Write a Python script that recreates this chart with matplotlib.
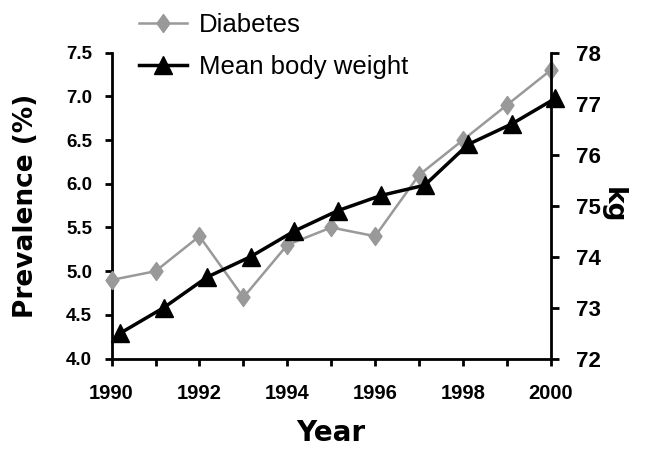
import matplotlib.pyplot as plt
import numpy as np

years = [1990, 1991, 1992, 1993, 1994, 1995, 1996, 1997, 1998, 1999, 2000]
diabetes = [4.9, 5.0, 5.4, 4.7, 5.3, 5.5, 5.4, 6.1, 6.5, 6.9, 7.3]
weight = [72.5, 73.0, 73.6, 74.0, 74.5, 74.9, 75.2, 75.4, 76.2, 76.6, 77.1]

prev_ticks = [4.0, 4.5, 5.0, 5.5, 6.0, 6.5, 7.0, 7.5]
kg_ticks = [72, 73, 74, 75, 76, 77, 78]
year_labels = [1990, 1992, 1994, 1996, 1998, 2000]

GRAY = "#999999"
# slightly tall diamond like the original
DIAMOND = [(0, 1), (0.72, 0), (0, -1), (-0.72, 0), (0, 1)]

fig = plt.figure(figsize=(6.45, 4.61), dpi=100)
rect = [0.173, 0.222, 0.681, 0.664]
ax = fig.add_axes(rect)

# prevalence on the primary axes
(l1,) = ax.plot(years, diabetes, color=GRAY, lw=1.8, marker=DIAMOND, ms=13,
                mec=GRAY, mfc=GRAY, clip_on=False, zorder=3, label="Diabetes")
ax.set_xlim(1990, 2000)
ax.set_ylim(4.0, 7.5)
ax.set_yticks(prev_ticks)
ax.set_yticklabels([f"{v:.1f}" for v in prev_ticks])
ax.set_xticks(years)
ax.set_xticklabels([str(y) if y in year_labels else "" for y in years])
for lab in ax.get_yticklabels():
    lab.set(family="Liberation Sans", weight="bold", size=13.5)
for lab in ax.get_xticklabels():
    lab.set(family="Liberation Sans", weight="bold", size=14.5)
for s in ["top", "right"]:
    ax.spines[s].set_visible(False)
for s in ["left", "bottom"]:
    ax.spines[s].set_linewidth(2)
ax.tick_params(axis="y", direction="out", length=5, width=2, pad=9)
ax.tick_params(axis="x", direction="out", length=5, width=2, pad=13)
ax.set_ylabel("Prevalence (%)", fontsize=19, fontweight="bold", family="DejaVu Sans")
ax.yaxis.set_label_coords(-0.165, 0.5)
ax.set_xlabel("Year", fontsize=20, fontweight="bold", family="DejaVu Sans")
ax.xaxis.set_label_coords(0.5, -0.196)

# body weight on a secondary axes, its own x scale is slightly shifted (as in the original)
ax2 = fig.add_axes(rect)
ax2.patch.set_visible(False)
(l2,) = ax2.plot(years, weight, color="black", lw=2.5, marker="^", ms=13,
                 clip_on=False, zorder=4, label="Mean body weight")
ax2.set_xlim(1989.8, 1999.9)
ax2.set_ylim(72, 78)
ax2.xaxis.set_visible(False)
ax2.yaxis.tick_right()
ax2.set_yticks(kg_ticks)
ax2.set_yticklabels([str(v) for v in kg_ticks])
for lab in ax2.get_yticklabels():
    lab.set(family="Liberation Sans", weight="bold", size=16)
for s in ["top", "left", "bottom"]:
    ax2.spines[s].set_visible(False)
ax2.spines["right"].set_linewidth(2)
ax2.tick_params(axis="y", direction="out", length=6, width=2, pad=12)
ax2.yaxis.set_label_position("right")
ax2.set_ylabel("kg", fontsize=19, fontweight="bold", family="DejaVu Sans", rotation=-90, va="center")
ax2.yaxis.set_label_coords(1.14, 0.5)

fig.legend(handles=[l1, l2], loc="upper left", bbox_to_anchor=(0.195, 1.0),
           frameon=False, prop=dict(family="Liberation Sans", size=18.5),
           handlelength=1.9, handletextpad=0.45, labelspacing=0.7, borderaxespad=0.1)

fig.savefig("out.png", dpi=100)
